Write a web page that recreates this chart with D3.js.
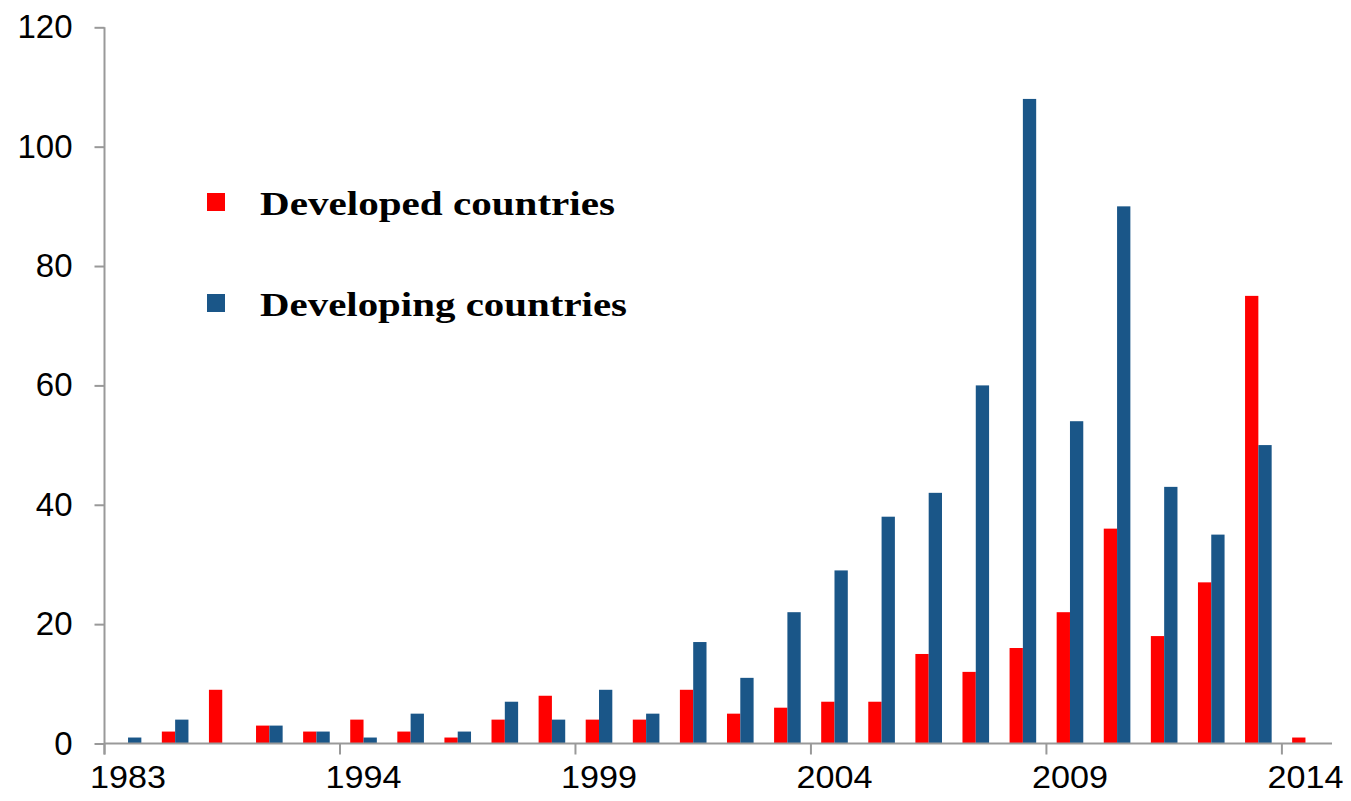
<!DOCTYPE html>
<html>
<head>
<meta charset="utf-8">
<script src="https://cdn.jsdelivr.net/npm/d3@7"></script>
<style>
  body { margin: 0; background: #fff; }
  svg { display: block; }
</style>
</head>
<body>
<div id="chart"></div>
<script>
// Data
const years = [1983, 1990, 1991, 1992, 1993, 1994, 1995, 1996, 1997, 1998, 1999, 2000, 2001,
               2002, 2003, 2004, 2005, 2006, 2007, 2008, 2009, 2010, 2011, 2012, 2013, 2014];
const developed = [0, 2, 9, 3, 2, 4, 2, 1, 4, 8, 4, 4, 9, 5, 6, 7, 7, 15, 12, 16, 22, 36, 18, 27, 75, 1];
const developing = [1, 4, 0, 3, 2, 1, 5, 2, 7, 4, 9, 5, 17, 11, 22, 29, 38, 42, 60, 108, 54, 90, 43, 35, 50, 0];
const labelYears = [1983, 1994, 1999, 2004, 2009, 2014];
const yTicks = [0, 20, 40, 60, 80, 100, 120];
const seriesNames = ['Developed countries', 'Developing countries'];
const colors = ['#ff0000', '#1a5688'];

const width = 1351;
const height = 801;
const axisColor = '#999';

const svg = d3.select('#chart')
  .append('svg')
  .attr('width', width)
  .attr('height', height);

// Scales
const x = d3.scaleBand()
  .domain(years)
  .range([104.5, 1329]);

const x1 = d3.scaleBand()
  .domain([0, 1])
  .range([0, x.bandwidth()])
  .paddingOuter(0.77);

const y = d3.scaleLinear()
  .domain([0, 120])
  .range([743.5, 27.3]);

// Bars
const rows = years.map((yr, i) => ({ year: yr, values: [developed[i], developing[i]] }));

const group = svg.append('g')
  .selectAll('g')
  .data(rows)
  .enter()
  .append('g')
  .attr('transform', d => `translate(${x(d.year)},0)`);

group.selectAll('rect')
  .data(d => d.values.map((v, k) => ({ k, v })))
  .enter()
  .append('rect')
  .attr('x', d => x1(d.k))
  .attr('width', x1.bandwidth())
  .attr('y', d => y(d.v))
  .attr('height', d => y(0) - y(d.v))
  .attr('fill', d => colors[d.k]);

// Y axis
const yAxis = svg.append('g')
  .attr('transform', 'translate(104.5,0)')
  .call(d3.axisLeft(y).tickValues(yTicks).tickSize(10).tickPadding(22).tickSizeOuter(0));

yAxis.select('.domain').remove();
yAxis.append('line')
  .attr('x1', 0).attr('x2', 0)
  .attr('y1', y(120)).attr('y2', y(0) + 11)
  .attr('stroke', axisColor).attr('stroke-width', 2);
yAxis.selectAll('.tick line').attr('stroke', axisColor).attr('stroke-width', 2);
yAxis.selectAll('.tick text')
  .attr('fill', '#000')
  .style('font-family', '"Liberation Sans", Arial, sans-serif')
  .style('font-size', '33px');

// X axis: labels at band centres, ticks at band left edges
const xAxis = svg.append('g')
  .attr('transform', `translate(0,${y(0)})`)
  .call(d3.axisBottom(x).tickValues(labelYears).tickSize(0).tickPadding(22));

xAxis.select('.domain').remove();
xAxis.append('line')
  .attr('x1', 104.5).attr('x2', 1332)
  .attr('y1', 0).attr('y2', 0)
  .attr('stroke', axisColor).attr('stroke-width', 2);
xAxis.selectAll('.tick-mark')
  .data(labelYears)
  .enter()
  .append('line')
  .attr('class', 'tick-mark')
  .attr('x1', d => x(d)).attr('x2', d => x(d))
  .attr('y1', 0).attr('y2', 11)
  .attr('stroke', axisColor).attr('stroke-width', 2);
xAxis.selectAll('.tick text')
  .attr('fill', '#000')
  .attr('textLength', 76)
  .attr('lengthAdjust', 'spacingAndGlyphs')
  .style('font-family', '"Liberation Sans", Arial, sans-serif')
  .style('font-size', '32px');

// Legend
const legendWidths = [355, 367];

const legend = svg.append('g')
  .selectAll('g')
  .data(seriesNames)
  .enter()
  .append('g')
  .attr('transform', (d, i) => `translate(207,${193 + i * 101})`);

legend.append('rect')
  .attr('width', 18)
  .attr('height', 18)
  .attr('fill', (d, i) => colors[i]);

legend.append('text')
  .attr('x', 53)
  .attr('y', 22)
  .attr('textLength', (d, i) => legendWidths[i])
  .attr('lengthAdjust', 'spacingAndGlyphs')
  .style('font-family', '"Liberation Serif", "Times New Roman", serif')
  .style('font-weight', 'bold')
  .style('font-size', '34px')
  .text(d => d);
</script>
</body>
</html>
